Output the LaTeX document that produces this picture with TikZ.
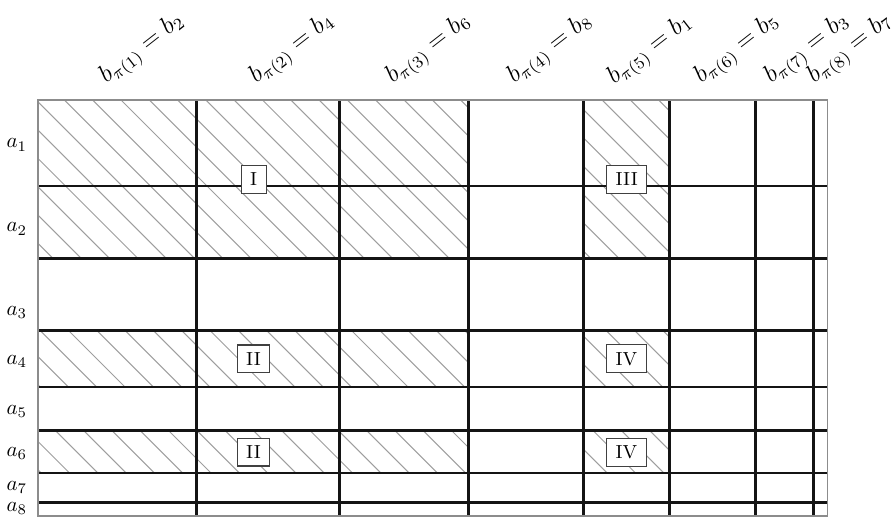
\documentclass[tikz,border=0pt]{standalone}
\begin{document}
\begin{tikzpicture}[x=0.476pt,y=-0.476pt,
  gridline/.style={line width=1.2pt,black!92},
  border/.style={line width=0.5pt,black!45},
  hatch/.style={line width=0.5pt,black!38},
  tag/.style={draw=black!75,fill=white,line width=0.5pt,font=\small,inner xsep=4.2pt,inner ysep=3.5pt},
  rowlab/.style={anchor=base east,inner sep=0pt},
  collab/.style={anchor=base west,rotate=38,inner sep=0pt,font=\large}]
\useasboundingbox (0,0) rectangle (896,517);
% hatching
\begin{scope}
\clip (38,100) rectangle (468.3,258.3) (583.7,100) rectangle (669.3,258.3)
      (38,330.3) rectangle (468.3,387) (583.7,330.3) rectangle (669.3,387)
      (38,430.3) rectangle (468.3,473) (583.7,430.3) rectangle (669.3,473);
\foreach \c in {-545,-516.7,...,900} \draw[hatch] (\c,0) -- (\c+600,600);
\end{scope}
% grid
\foreach \x in {196.3,339.7,468.3,583.7,669.3,755.3,813.3}
  \draw[gridline] (\x,100) -- (\x,516);
\foreach \y in {186,258.3,330.3,387,430.3,473,502.3}
  \draw[gridline] (38,\y) -- (827.3,\y);
\draw[border] (38,100) rectangle (827.3,516);
% tags
\node[tag] (t1) at (253.7,179.3) {I};
\node[tag] (t3) at (626.7,179.5) {III};
\node[tag] (t2a) at (253.5,358.8) {II};
\node[tag] (t2b) at (253.5,452.2) {II};
\node[tag] (t4a) at (626.5,358.8) {IV};
\node[tag] (t4b) at (626.5,452.2) {IV};
% row labels
\node[rowlab] (a1) at (27.5,148) {$a_1$};
\node[rowlab] (a2) at (27.5,232) {$a_2$};
\node[rowlab] (a3) at (27.5,315) {$a_3$};
\node[rowlab] (a4) at (27.5,364) {$a_4$};
\node[rowlab] (a5) at (27.5,414) {$a_5$};
\node[rowlab] (a6) at (27.5,456) {$a_6$};
\node[rowlab] (a7) at (27.5,490) {$a_7$};
\node[rowlab] (a8) at (27.5,511.7) {$a_8$};
% column labels
\node[collab] (b1) at (106,84) {$b_{\pi(1)}=b_2$};
\node[collab] (b2) at (256,84) {$b_{\pi(2)}=b_4$};
\node[collab] (b3) at (392.5,84) {$b_{\pi(3)}=b_6$};
\node[collab] (b4) at (514,84) {$b_{\pi(4)}=b_8$};
\node[collab] (b5) at (614,85) {$b_{\pi(5)}=b_1$};
\node[collab] (b6) at (701,84) {$b_{\pi(6)}=b_5$};
\node[collab] (b7) at (771,84) {$b_{\pi(7)}=b_3$};
\node[collab] (b8) at (814,84) {$b_{\pi(8)}=b_7$};
\end{tikzpicture}
\end{document}
